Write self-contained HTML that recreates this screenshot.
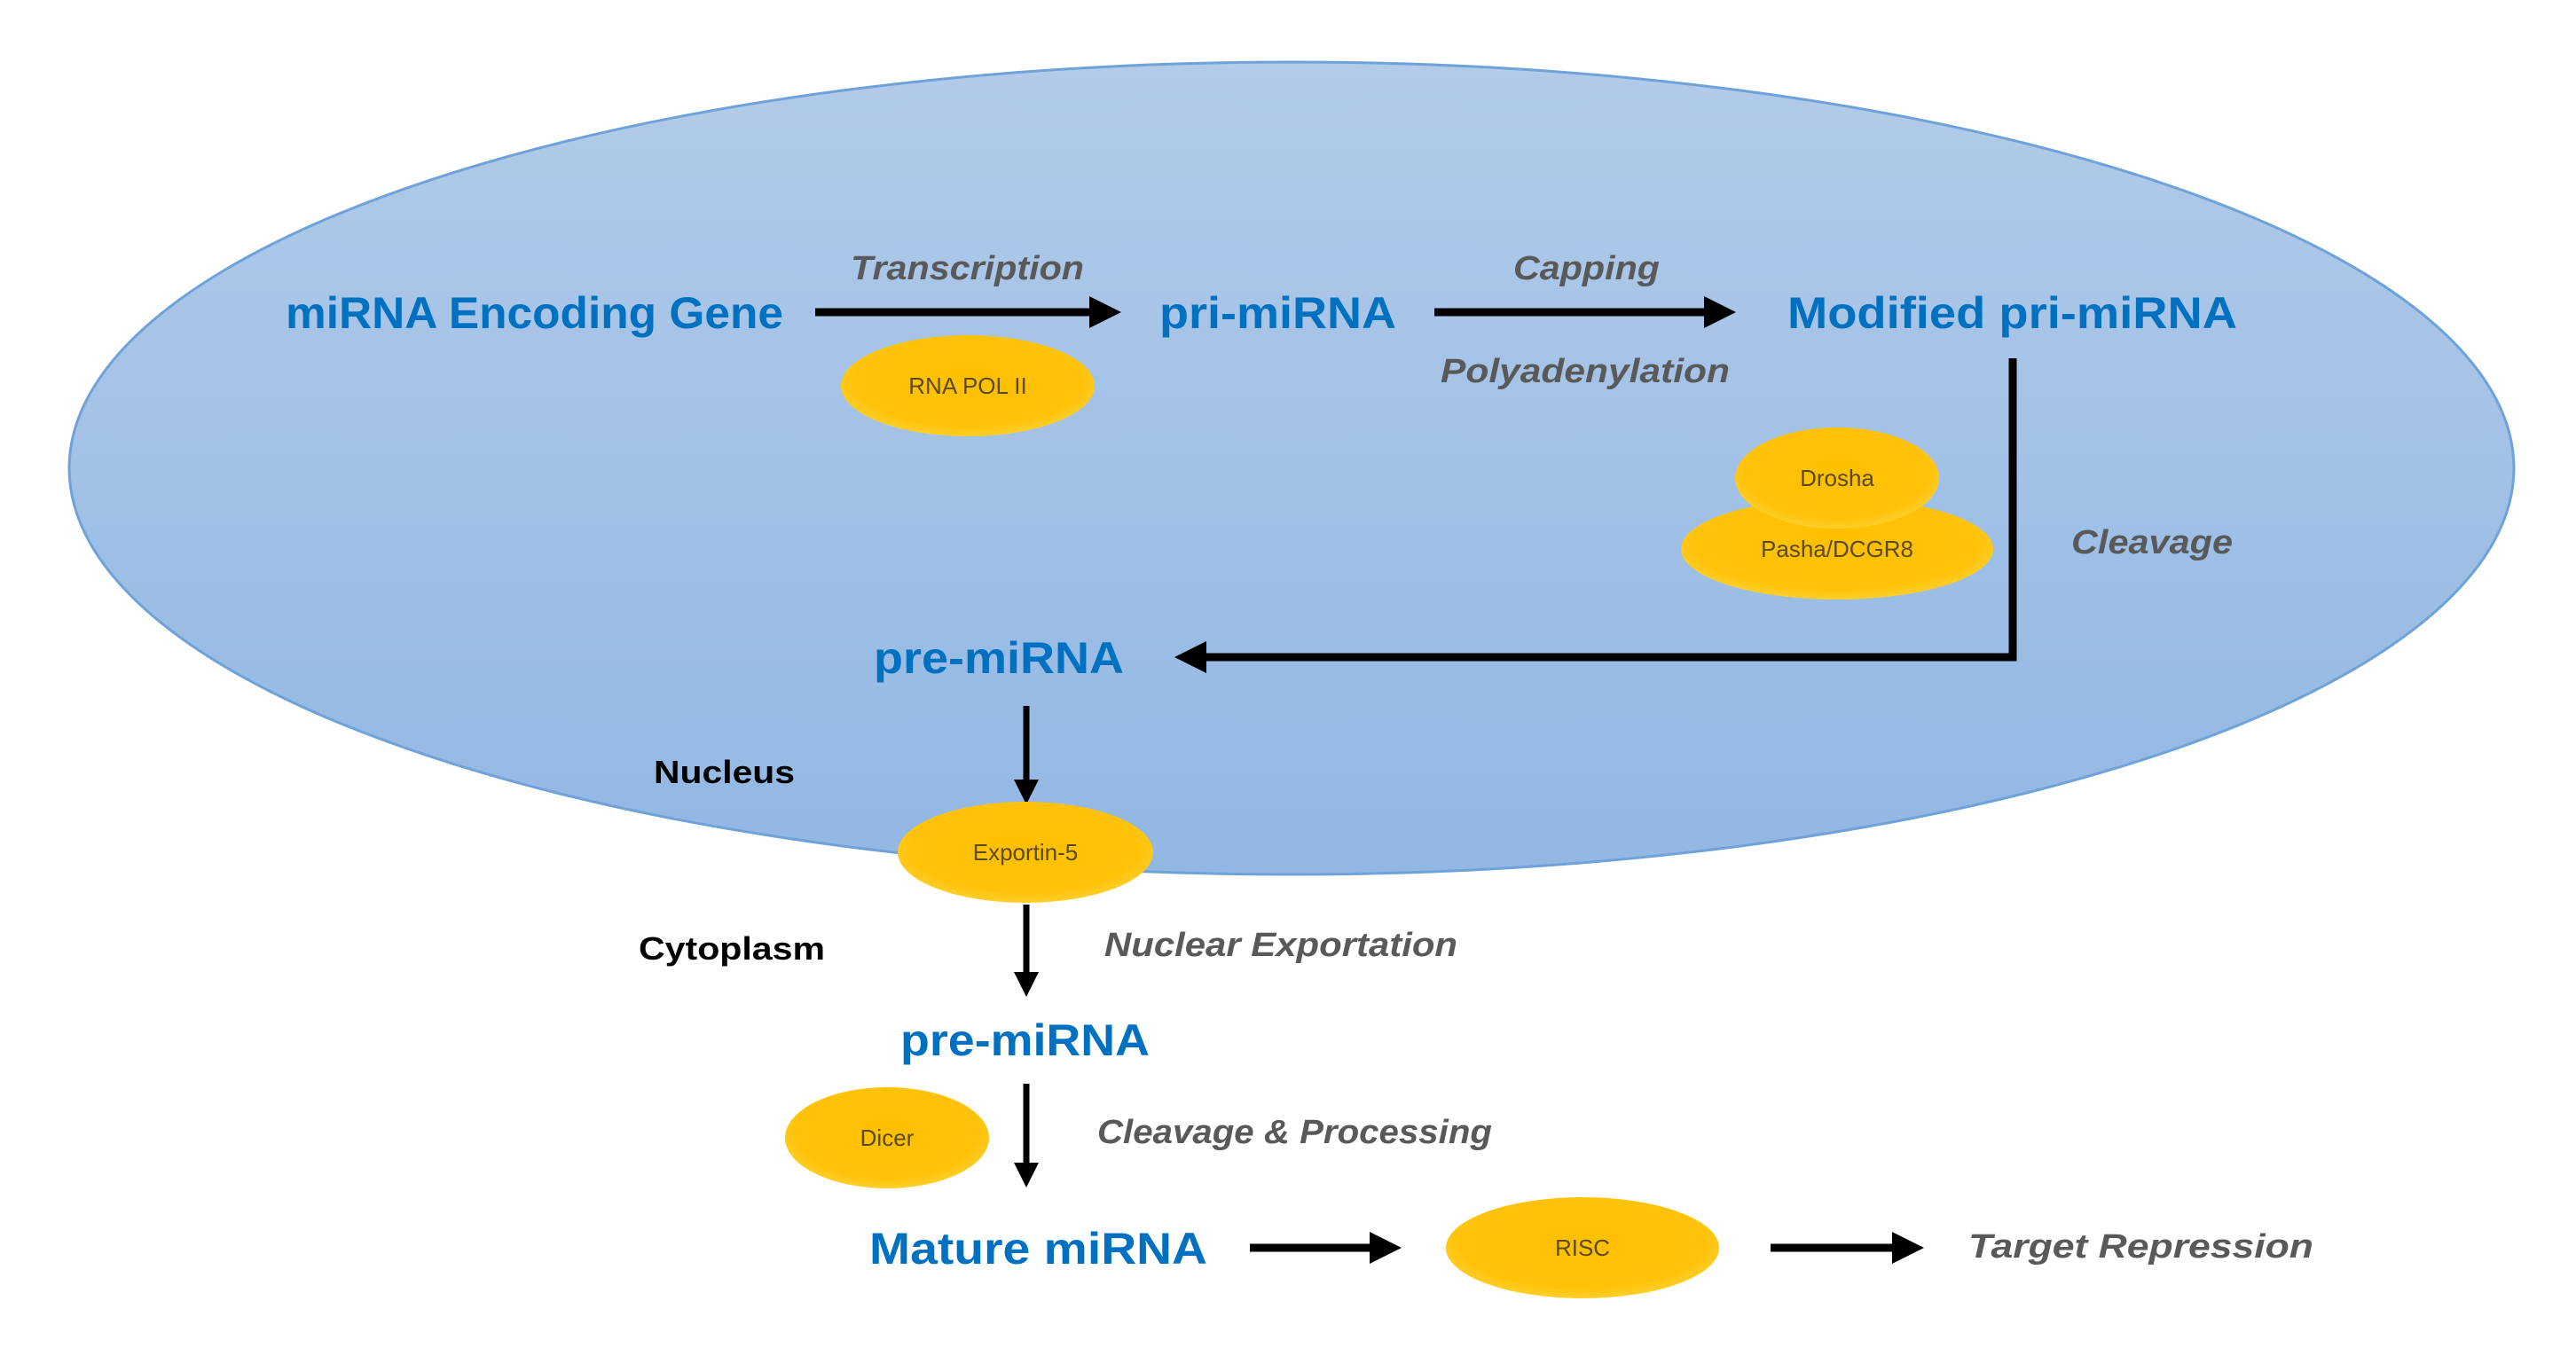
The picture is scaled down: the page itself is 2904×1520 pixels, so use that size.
<!DOCTYPE html>
<html><head><meta charset="utf-8"><style>
html,body{margin:0;padding:0;background:#fff;width:2904px;height:1520px;overflow:hidden}
svg{display:block}
.b{font-family:"Liberation Sans",sans-serif;font-weight:bold;fill:#0070c0;font-size:50px}
.g{font-family:"Liberation Sans",sans-serif;font-weight:bold;font-style:italic;fill:#595959;font-size:38px}
.k{font-family:"Liberation Sans",sans-serif;font-weight:bold;fill:#000;font-size:36px}
.y{font-family:"Liberation Sans",sans-serif;fill:#5a4a20;font-size:26px}
</style></head><body>
<svg width="2904" height="1520" viewBox="0 0 2904 1520" xmlns="http://www.w3.org/2000/svg">
<defs>
<linearGradient id="bg" x1="0" y1="0" x2="0" y2="1"><stop offset="0" stop-color="#b2cbe9"/><stop offset="1" stop-color="#91b7e3"/></linearGradient>
<radialGradient id="yl" cx="0.5" cy="0.45" r="0.6"><stop offset="0" stop-color="#ffc000"/><stop offset="0.75" stop-color="#ffc20a"/><stop offset="1" stop-color="#fdd53a"/></radialGradient>
<marker id="ah" markerWidth="4" markerHeight="4" refX="2" refY="2" orient="auto" markerUnits="strokeWidth"><path d="M0,0 L4,2 L0,4 z" fill="#000"/></marker>
</defs>
<ellipse cx="1456" cy="528" rx="1378" ry="458" fill="url(#bg)" stroke="#6fa2d8" stroke-width="3"/>

<text class="b" x="322" y="370" textLength="561" lengthAdjust="spacingAndGlyphs">miRNA Encoding Gene</text>
<text class="b" x="1307" y="370" textLength="267" lengthAdjust="spacingAndGlyphs">pri-miRNA</text>
<text class="b" x="2015" y="370" textLength="507" lengthAdjust="spacingAndGlyphs">Modified pri-miRNA</text>
<text class="b" x="985" y="759" textLength="282" lengthAdjust="spacingAndGlyphs">pre-miRNA</text>
<text class="b" x="1015" y="1190" textLength="281" lengthAdjust="spacingAndGlyphs">pre-miRNA</text>
<text class="b" x="980" y="1425" textLength="381" lengthAdjust="spacingAndGlyphs">Mature miRNA</text>

<text class="g" x="959" y="315" textLength="263" lengthAdjust="spacingAndGlyphs">Transcription</text>
<text class="g" x="1706" y="315" textLength="165" lengthAdjust="spacingAndGlyphs">Capping</text>
<text class="g" x="1624" y="431" textLength="326" lengthAdjust="spacingAndGlyphs">Polyadenylation</text>
<text class="g" x="2335" y="624" textLength="182" lengthAdjust="spacingAndGlyphs">Cleavage</text>
<text class="g" x="1245" y="1078" textLength="398" lengthAdjust="spacingAndGlyphs">Nuclear Exportation</text>
<text class="g" x="1237" y="1289" textLength="445" lengthAdjust="spacingAndGlyphs">Cleavage &amp; Processing</text>
<text class="g" x="2219" y="1418" textLength="389" lengthAdjust="spacingAndGlyphs" font-size="42">Target  Repression</text>
<text class="k" x="737" y="883" textLength="159" lengthAdjust="spacingAndGlyphs">Nucleus</text>
<text class="k" x="720" y="1082" textLength="210" lengthAdjust="spacingAndGlyphs">Cytoplasm</text>

<g stroke="#000" fill="none">
<line x1="919" y1="352" x2="1246" y2="352" stroke-width="9" marker-end="url(#ah)"/>
<line x1="1617" y1="352" x2="1939" y2="352" stroke-width="9" marker-end="url(#ah)"/>
<polyline points="2269,404 2269,741 1342,741" stroke-width="9" marker-end="url(#ah)"/>
<line x1="1157" y1="796" x2="1157" y2="893" stroke-width="7" marker-end="url(#ah)"/>
<line x1="1157" y1="1020" x2="1157" y2="1110" stroke-width="7" marker-end="url(#ah)"/>
<line x1="1157" y1="1222" x2="1157" y2="1325" stroke-width="7" marker-end="url(#ah)"/>
<line x1="1409" y1="1407" x2="1562" y2="1407" stroke-width="9" marker-end="url(#ah)"/>
<line x1="1996" y1="1407" x2="2151" y2="1407" stroke-width="9" marker-end="url(#ah)"/>
</g>

<ellipse cx="1091" cy="435" rx="143" ry="57" fill="url(#yl)"/>
<text class="y" x="1091" y="444" text-anchor="middle">RNA POL II</text>
<ellipse cx="2071" cy="619" rx="176" ry="57" fill="url(#yl)"/>
<ellipse cx="2071" cy="539" rx="115" ry="57" fill="url(#yl)"/>
<text class="y" x="2071" y="548" text-anchor="middle">Drosha</text>
<text class="y" x="2071" y="628" text-anchor="middle">Pasha/DCGR8</text>
<ellipse cx="1156" cy="961" rx="144" ry="57" fill="url(#yl)"/>
<text class="y" x="1156" y="970" text-anchor="middle">Exportin-5</text>
<ellipse cx="1000" cy="1283" rx="115" ry="57" fill="url(#yl)"/>
<text class="y" x="1000" y="1292" text-anchor="middle">Dicer</text>
<ellipse cx="1784" cy="1407" rx="154" ry="57" fill="url(#yl)"/>
<text class="y" x="1784" y="1416" text-anchor="middle">RISC</text>
</svg>
</body></html>
